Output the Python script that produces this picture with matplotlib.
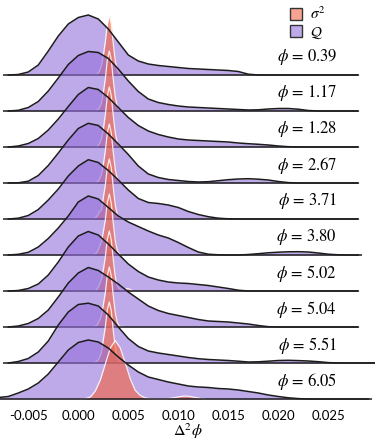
import numpy as np
import matplotlib.pyplot as plt
import matplotlib.transforms as mtransforms
from matplotlib.colors import to_rgba
from matplotlib.patches import Patch

plt.rcParams['mathtext.fontset'] = 'stix'

# phi value of each ridge, top to bottom
phi_labels = ['0.39', '1.17', '1.28', '2.67', '3.71', '3.80', '5.02', '5.04', '5.51', '6.05']

# Q density, read on a grid of 0.001 from -0.008 to 0.030
q_x = [-0.008, -0.007, -0.006, -0.005, -0.004, -0.003, -0.002, -0.001, 0.000,
       0.001, 0.002, 0.003, 0.004, 0.005, 0.006, 0.007, 0.008, 0.009, 0.010,
       0.011, 0.012, 0.013, 0.014, 0.015, 0.016, 0.017, 0.018, 0.019, 0.020,
       0.021, 0.022, 0.023, 0.024, 0.025, 0.026, 0.027, 0.028, 0.029, 0.030]

q_039 = [0, 0, 0.5, 3, 10, 24, 39, 51, 57.5, 60, 56, 46, 33, 20, 14, 11, 9.5, 8.5, 7.5,
         6.5, 6, 5.5, 5, 4.5, 3.5, 0.8, 0, 0, 0, 0, 0, 0, 0, 0, 0, 0, 0, 0, 0]
q_117 = [0, 0, 0.7, 3.5, 9.5, 20, 33, 46.5, 55.5, 59.5, 58.5, 52.5, 42, 30, 19.5, 12, 8.5,
         6.5, 5, 4, 3.5, 3, 2.5, 2, 1.5, 1, 1.2, 2, 2.5, 2.5, 1.8, 0.5, 0, 0, 0, 0, 0, 0, 0]
q_128 = [0, 0, 1, 3.5, 8.5, 17, 28, 40.5, 52.5, 59.5, 57.5, 49.5, 39.5, 29.5, 21.5, 16,
         12.5, 10, 8, 7, 6.5, 6, 5.5, 5, 4, 3.3, 2.7, 2, 1, 0.3, 0, 0, 0, 0, 0, 0, 0, 0, 0]
q_267 = [0, 0, 0.2, 1.8, 7.5, 17.5, 30, 43, 54.5, 59.7, 57.5, 49, 39, 28.5, 17, 9, 5.5,
         3.5, 2.5, 1.5, 1, 1.3, 2.3, 3.3, 4, 4.3, 3.8, 3, 1.5, 0.4, 0, 0, 0, 0, 0, 0, 0, 0, 0]
q_371 = [0, 0, 0.8, 3.5, 9.5, 19, 30, 43, 53, 59.3, 56.5, 48.5, 39, 29, 20.5, 16.5, 15.5,
         14, 11.5, 7.5, 4.5, 2.3, 0.8, 0.2, 0, 0, 0, 0, 0, 0, 0, 0, 0, 0, 0, 0, 0, 0, 0]
q_380 = [0, 0, 0.7, 2.7, 8, 16.5, 27, 39, 53, 59, 56, 47.5, 39, 33, 28.5, 24, 20, 17,
         12.5, 7.5, 3, 0.8, 0.2, 0, 0, 0.5, 1.3, 2.2, 2.8, 3.2, 3.3, 3, 2, 0.8, 0.2, 0, 0, 0, 0]
q_502 = [0, 0, 0.5, 2.5, 7, 16, 29, 44, 55, 59.5, 56, 47, 37, 27, 19.5, 14, 11, 9, 8,
         7.5, 6.5, 5.5, 4, 2.5, 0.8, 0, 0, 0, 0, 0, 0, 0, 0, 0, 0, 0, 0, 0, 0]
q_504 = [0, 0, 1, 3.5, 8.5, 17, 30, 44, 54, 59.5, 56.5, 50, 43, 35, 28, 21, 16.5, 13.5,
         11.5, 9.5, 7.5, 6, 5.5, 5, 4, 3, 1.5, 0.3, 0, 0, 0, 0, 0, 0, 0, 0, 0, 0, 0]
q_551 = [0, 0, 1.5, 4.5, 11, 22, 38, 51, 58.5, 59.8, 57, 48, 36, 24.5, 16.5, 12, 10, 8.5,
         7, 5.5, 4.3, 3.5, 3, 2.5, 1.8, 1, 1.2, 1.8, 2.5, 2.7, 2.4, 2, 1.3, 0.4, 0, 0, 0, 0, 0]
q_605 = [1.5, 2.5, 6, 10, 16, 25, 37, 49, 56.5, 59, 57, 51, 42, 34, 27, 22, 19.5, 17, 15,
         13, 12, 11.5, 10.5, 10, 9, 7.5, 6, 4, 2.5, 1.2, 0.4, 0, 0, 0, 0, 0, 0, 0, 0]
q_rows = [q_039, q_117, q_128, q_267, q_371, q_380, q_502, q_504, q_551, q_605]

# extent of each Q outline (start, end)
q_start = [-0.0075, -0.0075, -0.0075, -0.0075, -0.0075, -0.0075, -0.0075, -0.0075, -0.0075, -0.0085]
q_end = [0.0280, 0.0280, 0.0280, 0.0280, 0.0280, 0.0284, 0.0280, 0.0280, 0.0305, 0.0294]

# sigma^2 density, narrow spikes (rows 1-9)
s_x = [0.0015, 0.0017, 0.0019, 0.0021, 0.0023, 0.0025, 0.0027, 0.0029, 0.0031, 0.0033,
       0.0035, 0.0037, 0.0039, 0.0041, 0.0043, 0.0045, 0.0047, 0.0049, 0.0051, 0.0053, 0.0055]
s_rows = [
    [0, 0, 1.2, 3.5, 9, 19, 33, 51, 60, 51, 31, 14, 4.5, 1, 0.2, 0, 0, 0, 0, 0, 0],
    [0, 0, 1, 3, 7.5, 18, 32, 51, 60, 51, 31, 14, 4.5, 1, 0.2, 0, 0, 0, 0, 0, 0],
    [0, 0, 0.5, 3, 7.5, 17.5, 32, 51, 60, 51, 31, 14, 4.5, 1, 0.2, 0, 0, 0, 0, 0, 0],
    [0, 0, 1, 3.5, 8, 18, 32, 50, 59, 50, 30.5, 13.5, 4.3, 1, 0.2, 0, 0, 0, 0, 0, 0],
    [0, 1, 3.2, 7, 8.5, 21, 34, 51.5, 60, 51, 31, 14, 4.5, 1, 0.2, 0, 0, 0, 0, 0, 0],
    [0, 1, 3.2, 8, 13, 23, 35, 52, 61, 51.5, 31.5, 14, 4.5, 1, 0.2, 0, 0, 0, 0, 0, 0],
    [0, 0, 2.2, 6, 11, 21, 34, 51.5, 60, 51, 31, 14, 5, 2, 1.2, 1, 1.5, 2.5, 2, 0.8, 0],
    [0, 1, 2.2, 6, 11, 22, 34, 51.5, 60, 51, 31, 14, 4.5, 1, 0.2, 0, 0, 0, 0, 0, 0],
    [0, 1, 2.2, 5, 10, 23, 36, 53, 61, 52, 32, 15, 5, 1.3, 0.3, 0, 0, 0, 0, 0, 0],
]
# sigma^2 density for phi = 6.05 (wider, with a second bump)
s_x_last = [0.0002, 0.0007, 0.0012, 0.0017, 0.0022, 0.0027, 0.0032, 0.0037, 0.0042,
            0.0047, 0.0052, 0.0057, 0.0062, 0.0067, 0.0072, 0.0077, 0.0082, 0.0087,
            0.0092, 0.0097, 0.0102, 0.0107, 0.0112, 0.0117, 0.0122, 0.0127]
s_last = [0, 0.3, 2, 8, 19, 35, 51, 58.5, 51, 36, 20, 8.5, 3.5, 1, 0.3, 0, 0, 0.2,
          0.6, 1.5, 2.5, 3, 2.5, 1.5, 0.5, 0]

xticks = [-0.005, 0.000, 0.005, 0.010, 0.015, 0.020, 0.025]

Q_COLOR = '#9370DB'
S_COLOR = '#F06848'
SPACING = 36

fig = plt.figure(figsize=(3.75, 4.44), dpi=100)
ax = fig.add_axes([0, 1 - 405 / 444, 1, 405 / 444])

qx = np.array(q_x)
for i, q in enumerate(q_rows):
    base = -SPACING * i
    z = 4 * i
    q = np.array(q, dtype=float)
    m = (qx >= q_start[i]) & (qx <= q_end[i])
    ax.fill_between(qx[m], base, base + q[m], color=Q_COLOR, alpha=0.6, lw=0, zorder=z)

    if i < len(s_rows):
        sx, sy = np.array(s_x), np.array(s_rows[i], dtype=float)
    else:
        sx, sy = np.array(s_x_last), np.array(s_last, dtype=float)
    ax.fill_between(sx, base, base + sy, color=S_COLOR, alpha=0.65, lw=0, zorder=z + 1)
    keep = sy > 0
    keep[1:] |= sy[:-1] > 0
    keep[:-1] |= sy[1:] > 0
    ax.plot(sx, np.where(keep, base + sy, np.nan), color='white', lw=0.9, alpha=0.85,
            zorder=z + 2)

    ax.plot(qx[m], base + q[m], color='#1c1c1c', lw=1.1, zorder=z + 3)
    ax.hlines(base, q_start[i], q_end[i], color='#1c1c1c', lw=1.1, zorder=z + 3)

trans = mtransforms.blended_transform_factory(ax.transAxes, ax.transData)
for i, lab in enumerate(phi_labels):
    ax.text(0.899, -SPACING * i + 18, r'$\phi$ = ' + lab, transform=trans,
            ha='right', va='center', fontsize=12, family='STIXGeneral', zorder=100)

ax.set_xlim(-0.00783, 0.02967)
ax.set_ylim(-330, 75)
ax.set_xticks(xticks)
ax.set_xticklabels([f'{t:.3f}' for t in xticks], family='Lato', fontsize=9.5)
ax.tick_params(axis='x', length=0, pad=3.5)
ax.set_yticks([])
for s in ax.spines.values():
    s.set_visible(False)
ax.set_xlabel(r'$\Delta^2\phi$', fontsize=11.5, labelpad=0)

handles = [Patch(facecolor=to_rgba(S_COLOR, 0.6), edgecolor='#333333', lw=1, label=r'$\sigma^2$'),
           Patch(facecolor=to_rgba(Q_COLOR, 0.6), edgecolor='#333333', lw=1, label=r'$\mathcal{Q}$')]
ax.legend(handles=handles, loc='upper right', bbox_to_anchor=(0.905, 1.02), frameon=False,
          fontsize=11, handlelength=0.8, handleheight=0.8, handletextpad=0.5, labelspacing=0.15)

fig.savefig('out.png', dpi=100)
